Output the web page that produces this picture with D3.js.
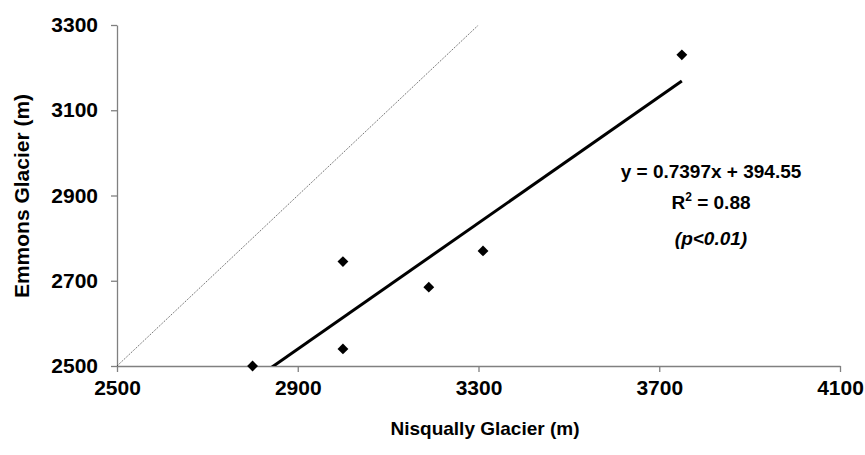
<!DOCTYPE html>
<html><head><meta charset="utf-8">
<script src="https://cdn.jsdelivr.net/npm/d3@7"></script>
<style>
body{margin:0;background:#fff;}
text{font-family:"Liberation Sans",Arial,sans-serif;font-weight:bold;fill:#000;}
</style></head><body>
<svg id="c" width="865" height="455"></svg>
<script>
const nisqually = [2800, 3000, 3000, 3190, 3310, 3750];
const emmons    = [2500, 2745, 2540, 2685, 2770, 3230];
const xTicks = [2500, 2900, 3300, 3700, 4100];
const yTicks = [2500, 2700, 2900, 3100, 3300];
const slope = 0.7397, intercept = 394.55;
const eqLines = ["y = 0.7397x + 394.55", "R2 = 0.88", "(p<0.01)"];

const FS = 19, TFS = 21;
const svg = d3.select("#c");
const x = d3.scaleLinear().domain([2500, 4100]).range([117, 840]);
const y = d3.scaleLinear().domain([2500, 3300]).range([366, 25]);

svg.append("defs").append("clipPath").attr("id","clip")
  .append("rect").attr("x",117).attr("y",25).attr("width",723).attr("height",341);

// axes
const xAxis = d3.axisBottom(x).tickValues(xTicks).tickFormat(d3.format("d")).tickSize(6).tickSizeOuter(0).tickPadding(8);
const yAxis = d3.axisLeft(y).tickValues(yTicks).tickFormat(d3.format("d")).tickSize(6).tickSizeOuter(0).tickPadding(13);
const gx = svg.append("g").attr("transform",`translate(0,${y(2500)})`).call(xAxis);
const gy = svg.append("g").attr("transform",`translate(${x(2500)},0)`).call(yAxis);
[gx,gy].forEach(g=>{
  g.attr("font-size",null).attr("font-family",null);
  g.selectAll("path,line").attr("stroke","#808080").attr("stroke-width",1.3);
  g.selectAll("text").style("font-size",TFS+"px").style("font-weight","bold").attr("fill","#000");
});

// 1:1 line
svg.append("line").attr("clip-path","url(#clip)")
  .attr("x1",x(2500)).attr("y1",y(2500)).attr("x2",x(3300)).attr("y2",y(3300))
  .attr("stroke","#333").attr("stroke-width",0.8).attr("stroke-dasharray","1.2,1.2");

// trend line
const xMin = d3.min(nisqually), xMax = d3.max(nisqually);
svg.append("line").attr("clip-path","url(#clip)")
  .attr("x1",x(xMin)).attr("y1",y(slope*xMin+intercept))
  .attr("x2",x(xMax)).attr("y2",y(slope*xMax+intercept))
  .attr("stroke","#000").attr("stroke-width",3);

// points
const sym = d3.symbol().type(d3.symbolDiamond2).size(75);
svg.selectAll("path.pt").data(nisqually.map((v,i)=>[v,emmons[i]])).enter()
  .append("path").attr("class","pt")
  .attr("d", sym)
  .attr("transform",d=>`translate(${x(d[0])},${y(d[1])})`)
  .attr("fill","#000");

// equation text
svg.append("text").attr("x",711).attr("y",178).attr("text-anchor","middle").style("font-size",FS+"px").text(eqLines[0]);
const r2 = svg.append("text").attr("x",711).attr("y",209).attr("text-anchor","middle").style("font-size",FS+"px");
r2.append("tspan").text("R");
r2.append("tspan").attr("dy",-8).style("font-size","12px").text("2");
r2.append("tspan").attr("dy",8).text(" = 0.88");
svg.append("text").attr("x",711).attr("y",245).attr("text-anchor","middle").style("font-size",FS+"px").style("font-style","italic").text(eqLines[2]);

// axis titles
svg.append("text").attr("x",485).attr("y",435).attr("text-anchor","middle").style("font-size",FS+"px").text("Nisqually Glacier (m)");
svg.append("text").attr("transform","translate(29,196) rotate(-90)").attr("text-anchor","middle").style("font-size","21px").text("Emmons Glacier (m)");
</script>
</body></html>
